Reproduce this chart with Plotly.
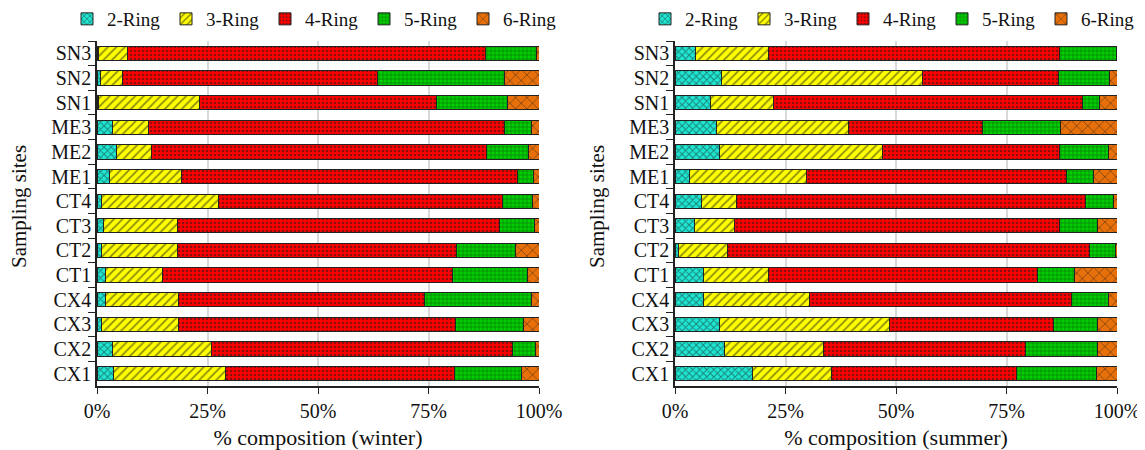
import plotly.graph_objects as go

sites = ["SN3", "SN2", "SN1", "ME3", "ME2", "ME1", "CT4", "CT3", "CT2", "CT1", "CX4", "CX3", "CX2", "CX1"]
rings = ["2-Ring", "3-Ring", "4-Ring", "5-Ring", "6-Ring"]

winter_2r = [0.4, 0.8, 0.4, 3.6, 4.5, 2.9, 1.0, 1.4, 1.1, 1.9, 2.0, 1.1, 3.5, 3.8]
winter_3r = [6.6, 4.9, 22.7, 8.1, 7.8, 16.2, 26.6, 16.7, 17.2, 13.0, 16.5, 17.4, 22.5, 25.3]
winter_4r = [81.0, 57.8, 53.6, 80.6, 75.9, 76.1, 64.1, 72.9, 63.1, 65.5, 55.7, 62.5, 68.1, 51.7]
winter_5r = [11.4, 28.6, 16.1, 6.0, 9.4, 3.5, 6.8, 7.9, 13.2, 17.0, 24.1, 15.6, 5.1, 15.2]
winter_6r = [0.6, 7.9, 7.2, 1.7, 2.4, 1.3, 1.5, 1.1, 5.4, 2.6, 1.7, 3.4, 0.8, 4.0]

summer_2r = [4.6, 10.5, 8.1, 9.3, 10.0, 3.3, 6.0, 4.3, 0.9, 6.5, 6.5, 10.0, 11.1, 17.5]
summer_3r = [16.6, 45.4, 14.2, 30.0, 37.0, 26.5, 7.8, 9.2, 11.0, 14.7, 23.9, 38.5, 22.5, 18.0]
summer_4r = [65.8, 30.9, 69.9, 30.3, 39.9, 58.8, 79.1, 73.4, 81.9, 60.7, 59.2, 37.1, 45.7, 41.8]
summer_5r = [12.8, 11.6, 3.8, 17.7, 11.2, 6.0, 6.3, 8.7, 5.8, 8.4, 8.4, 10.0, 16.3, 18.0]
summer_6r = [0.2, 1.6, 4.0, 12.7, 1.9, 5.4, 0.8, 4.4, 0.4, 9.7, 2.0, 4.4, 4.4, 4.7]

tick_vals = [0, 25, 50, 75, 100]
tick_text = ["0%", "25%", "50%", "75%", "100%"]

colors = ["#1EE6D2", "#FFFF00", "#FF0000", "#00D000", "#E8700A"]
patterns = [
    dict(shape="x", fgcolor="#1A1A1A", size=5, solidity=0.35),
    dict(shape="/", fgcolor="#1A1A1A", size=6, solidity=0.3),
    dict(shape=".", fgcolor="#1A1A1A", size=4, solidity=0.35),
    dict(shape="+", fgcolor="#1A1A1A", size=4, solidity=0.3),
    dict(shape="x", fgcolor="#1A1A1A", size=8, solidity=0.2),
]

winter = [winter_2r, winter_3r, winter_4r, winter_5r, winter_6r]
summer = [summer_2r, summer_3r, summer_4r, summer_5r, summer_6r]

FONT = "Liberation Serif, Times New Roman, serif"

# page body has an 8px default margin; figure is sized to fit the 1145x450 window
W, H = 1137, 442
T, B = 33, 64
PH = H - T - B

fig = go.Figure()
for i, name in enumerate(rings):
    fig.add_trace(go.Bar(
        y=sites, x=winter[i], name=name, orientation="h",
        marker=dict(color=colors[i], line=dict(color="#222222", width=1), pattern=patterns[i]),
        width=0.58, xaxis="x", yaxis="y", legend="legend",
    ))
for i, name in enumerate(rings):
    fig.add_trace(go.Bar(
        y=sites, x=summer[i], name=name, orientation="h",
        marker=dict(color=colors[i], line=dict(color="#222222", width=1), pattern=patterns[i]),
        width=0.58, xaxis="x2", yaxis="y2", legend="legend2",
    ))

xcommon = dict(range=[0, 100], tickvals=tick_vals, ticktext=tick_text,
               showgrid=True, gridcolor="#D9D9D9", gridwidth=1.5,
               showline=True, linecolor="#222222", linewidth=1.5,
               ticks="outside", ticklen=6, tickcolor="#222222",
               tickfont=dict(size=20, color="#111111"), zeroline=False, automargin=False,
               title_font=dict(size=22, color="#111111"), title_standoff=9)
ycommon = dict(autorange="reversed", type="category",
               showline=True, linecolor="#222222", linewidth=1.5,
               ticks="outside", ticklen=7, tickcolor="#222222", tickson="boundaries",
               tickfont=dict(size=20, color="#111111"), showgrid=False, automargin=False)

leg_y = 1 + (T - 11) / PH
title_y = 1 - (199 - T) / PH

fig.update_layout(
    width=W, height=H,
    margin=dict(l=0, r=0, t=T, b=B, autoexpand=False),
    barmode="stack",
    plot_bgcolor="white", paper_bgcolor="white",
    font=dict(family=FONT, color="#111111"),
    xaxis=dict(domain=[89/W, 531/W], anchor="y", title_text="% composition (winter)", **xcommon),
    yaxis=dict(anchor="x", **ycommon),
    xaxis2=dict(domain=[667/W, 1109/W], anchor="y2", title_text="% composition (summer)", **xcommon),
    yaxis2=dict(anchor="x2", **ycommon),
    legend=dict(orientation="h", xref="container", yref="paper", x=59/W, y=leg_y,
                xanchor="left", yanchor="middle", font=dict(size=19), entrywidth=54,
                traceorder="normal", bgcolor="rgba(0,0,0,0)"),
    legend2=dict(orientation="h", xref="container", yref="paper", x=637/W, y=leg_y,
                 xanchor="left", yanchor="middle", font=dict(size=19), entrywidth=54,
                 traceorder="normal", bgcolor="rgba(0,0,0,0)"),
    showlegend=True,
    annotations=[
        dict(text="Sampling sites", textangle=-90, xref="paper", yref="paper",
             x=11/W, y=title_y, xanchor="center", yanchor="middle", showarrow=False,
             font=dict(size=21, color="#111111")),
        dict(text="Sampling sites", textangle=-90, xref="paper", yref="paper",
             x=589/W, y=title_y, xanchor="center", yanchor="middle", showarrow=False,
             font=dict(size=21, color="#111111")),
    ],
)

fig.write_html("out.html")
